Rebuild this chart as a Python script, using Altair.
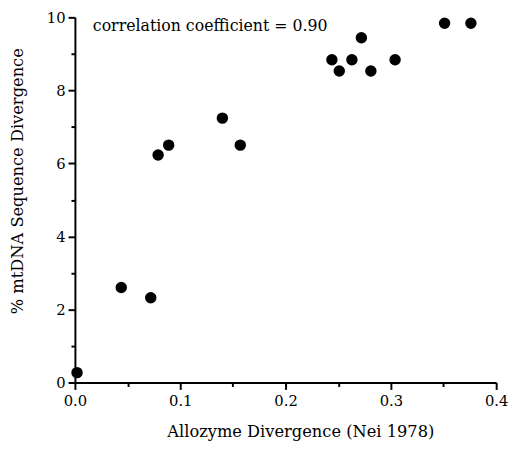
import altair as alt
import pandas as pd

allozyme = [0.002, 0.044, 0.072, 0.079, 0.089, 0.140, 0.157, 0.244, 0.251, 0.263,
            0.272, 0.281, 0.304, 0.351, 0.376]
mtdna = [0.27, 2.60, 2.32, 6.23, 6.50, 7.24, 6.50, 8.84, 8.53, 8.84,
         9.44, 8.53, 8.84, 9.84, 9.84]
x_ticks = [0.0, 0.05, 0.1, 0.15, 0.2, 0.25, 0.3, 0.35, 0.4]
y_ticks = [0, 1, 2, 3, 4, 5, 6, 7, 8, 9, 10]
note = ["correlation coefficient = 0.90"]
note_x = [0.017]
note_y = [9.62]

df = pd.DataFrame({"x": allozyme, "y": mtdna})
ndf = pd.DataFrame({"t": note, "x": note_x, "y": note_y})

FONT = "DejaVu Serif"

xmaj = "round(datum.value*20) % 2 == 0"
ymaj = "datum.value % 2 == 0"

xaxis = alt.Axis(
    values=x_ticks, format=".1f",
    labelExpr=f"{xmaj} ? datum.label : ''",
    tickSize={"condition": {"test": xmaj, "value": 7}, "value": 4},
    tickColor={"condition": {"test": xmaj, "value": "black"}, "value": "black"},
    tickWidth={"condition": {"test": xmaj, "value": 2}, "value": 2},
    labelPadding=4,
    title="Allozyme Divergence (Nei 1978)", titleX=229, titleY=55,
    titleBaseline="alphabetic", titleAlign="center",
)
yaxis = alt.Axis(
    values=y_ticks, format="d",
    labelExpr=f"{ymaj} ? datum.label : ''",
    tickSize={"condition": {"test": ymaj, "value": 7}, "value": 4},
    tickColor={"condition": {"test": ymaj, "value": "black"}, "value": "black"},
    tickWidth={"condition": {"test": ymaj, "value": 2}, "value": 2},
    labelPadding=3,
    title="% mtDNA Sequence Divergence", titleX=-50, titleY=166,
    titleAlign="center",
)

xs = alt.Scale(domain=[0, 0.4], nice=False)
ys = alt.Scale(domain=[0, 10], nice=False)

points = alt.Chart(df).mark_circle(size=135, color="black", opacity=1).encode(
    x=alt.X("x:Q", scale=xs, axis=xaxis),
    y=alt.Y("y:Q", scale=ys, axis=yaxis),
)
text = alt.Chart(ndf).mark_text(align="left", baseline="alphabetic", font=FONT,
                                fontSize=16, color="black").encode(
    x=alt.X("x:Q", scale=xs, axis=xaxis),
    y=alt.Y("y:Q", scale=ys, axis=yaxis),
    text="t:N")

chart = (points + text).properties(
    width=428, height=371,
    autosize=alt.AutoSizeParams(type="none"),
    padding={"left": 68, "top": 6, "right": 12, "bottom": 60},
).configure(background="white").configure_view(stroke=None).configure_axis(
    grid=False, domainColor="black", domainWidth=2, domainOpacity=1,
    tickOpacity=1,
    labelFont=FONT, labelFontSize=15, labelColor="black", labelFlush=False,
    titleFont=FONT, titleFontSize=16.5, titleFontWeight="normal", titleColor="black",
)

chart.save("out.html", embed_options={"renderer": "svg", "actions": False})
